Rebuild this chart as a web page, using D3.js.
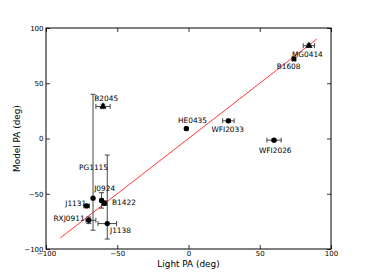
<!DOCTYPE html>
<html>
<head>
<meta charset="utf-8">
<script src="https://cdn.jsdelivr.net/npm/d3@7"></script>
<style>
  body { margin: 0; background: #fff; }
  text { font-family: "DejaVu Sans", sans-serif; }
</style>
</head>
<body>
<div id="chart"></div>
<script>
'use strict';

// lens names and measured position angles (deg)
const lenses  = ["B2045", "PG1115", "J0924", "J1131", "B1422", "RXJ0911", "J1138",
                 "HE0435", "WFI2033", "WFI2026", "MG0414", "B1608"];
const lightPA = [-60, -67, -61, -71.5, -59, -70, -57, -1.5, 28, 60, 84.5, 74];
const modelPA = [29, -54, -56, -61, -58.5, -74, -77, 9, 16, -1.5, 84, 72];
// errors: [minus, plus]
const xErr = [[5, 5], [0, 0], [1, 1], [2, 2], [1, 1], [2, 5], [6.5, 6.5],
              [1, 1], [4, 4], [5, 5], [4, 4], [1, 1]];
const yErr = [[2, 2], [29, 94], [7, 7], [1, 1], [2, 2], [3, 3], [14, 62],
              [1, 1], [1.5, 1.5], [1, 1], [1.5, 1.5], [1, 1]];
const markers = ["triangle", "circle", "circle", "circle", "circle", "circle", "circle",
                 "circle", "circle", "circle", "triangle", "square"];
const xTicks = [-100, -50, 0, 50, 100];
const yTicks = [-100, -50, 0, 50, 100];
const oneToOne = [-90, 90];

// label placement, px from the marker (text left edge, vertical centre)
const labelOffsets = [[-8.7, -8], [-14, -31], [-7.4, -11.7], [-21.4, -2], [7.6, -1],
                      [-35.3, -2.3], [2.7, 6.7], [-8.4, -8.3], [-17, 9], [-15, 10],
                      [-17, 9], [-17.3, 7.7]];

const W = 368, H = 278;
const margin = { left: 46, right: 37, top: 28, bottom: 29 };

const svg = d3.select("#chart").append("svg")
  .attr("width", W).attr("height", H);

const x = d3.scaleLinear().domain([-100, 100]).range([margin.left, W - margin.right]);
const y = d3.scaleLinear().domain([-100, 100]).range([H - margin.bottom, margin.top]);

const tickLen = 4;

// axes (ticks point inward, on all four sides)
svg.append("g")
  .attr("transform", `translate(0,${y(-100)})`)
  .call(d3.axisBottom(x).tickValues(xTicks).tickSizeInner(-tickLen).tickSizeOuter(0).tickPadding(2.5))
  .call(g => g.select(".domain").remove());
svg.append("g")
  .attr("transform", `translate(0,${y(100)})`)
  .call(d3.axisTop(x).tickValues(xTicks).tickSizeInner(-tickLen).tickSizeOuter(0).tickFormat(""))
  .call(g => g.select(".domain").remove());
svg.append("g")
  .attr("transform", `translate(${x(-100)},0)`)
  .call(d3.axisLeft(y).tickValues(yTicks).tickSizeInner(-tickLen).tickSizeOuter(0).tickPadding(2.5))
  .call(g => g.select(".domain").remove());
svg.append("g")
  .attr("transform", `translate(${x(100)},0)`)
  .call(d3.axisRight(y).tickValues(yTicks).tickSizeInner(-tickLen).tickSizeOuter(0).tickFormat(""))
  .call(g => g.select(".domain").remove());

svg.selectAll(".tick text").attr("font-size", 7).attr("fill", "#000")
  .attr("font-family", "DejaVu Sans, sans-serif");
svg.selectAll(".tick line").attr("stroke", "#000").attr("stroke-width", 0.8);

// 1:1 line
svg.append("line")
  .attr("x1", x(oneToOne[0])).attr("y1", y(oneToOne[0]))
  .attr("x2", x(oneToOne[1])).attr("y2", y(oneToOne[1]))
  .attr("stroke", "#ff2020").attr("stroke-width", 0.9);

// error bars
const cap = 2.5;
const errG = svg.append("g").attr("stroke", "#333").attr("stroke-width", 0.9);
lenses.forEach((name, i) => {
  const cx = x(lightPA[i]), cy = y(modelPA[i]);
  const [xm, xp] = xErr[i], [ym, yp] = yErr[i];
  if (xm + xp > 0) {
    const x0 = x(lightPA[i] - xm), x1 = x(lightPA[i] + xp);
    errG.append("line").attr("x1", x0).attr("x2", x1).attr("y1", cy).attr("y2", cy);
    errG.append("line").attr("x1", x0).attr("x2", x0).attr("y1", cy - cap).attr("y2", cy + cap);
    errG.append("line").attr("x1", x1).attr("x2", x1).attr("y1", cy - cap).attr("y2", cy + cap);
  }
  if (ym + yp > 0) {
    const y0 = y(modelPA[i] - ym), y1 = y(modelPA[i] + yp);
    errG.append("line").attr("x1", cx).attr("x2", cx).attr("y1", y0).attr("y2", y1);
    errG.append("line").attr("x1", cx - cap).attr("x2", cx + cap).attr("y1", y0).attr("y2", y0);
    errG.append("line").attr("x1", cx - cap).attr("x2", cx + cap).attr("y1", y1).attr("y2", y1);
  }
});

// markers
const symbolFor = { circle: d3.symbolCircle, triangle: d3.symbolTriangle, square: d3.symbolSquare };
svg.append("g").selectAll("path")
  .data(lenses)
  .join("path")
    .attr("transform", (d, i) => `translate(${x(lightPA[i])},${y(modelPA[i])})`)
    .attr("d", (d, i) => d3.symbol(symbolFor[markers[i]], markers[i] === "circle" ? 22 : 22)())
    .attr("fill", "#000");

// lens labels
svg.append("g").selectAll("text")
  .data(lenses)
  .join("text")
    .attr("x", (d, i) => x(lightPA[i]) + labelOffsets[i][0])
    .attr("y", (d, i) => y(modelPA[i]) + labelOffsets[i][1])
    .attr("dy", "0.35em")
    .attr("font-size", 7.4)
    .text(d => d);

// frame
svg.append("rect")
  .attr("x", x(-100)).attr("y", y(100))
  .attr("width", x(100) - x(-100)).attr("height", y(-100) - y(100))
  .attr("fill", "none").attr("stroke", "#000").attr("stroke-width", 1);

// axis labels
svg.append("text")
  .attr("x", x(0)).attr("y", 267)
  .attr("text-anchor", "middle").attr("font-size", 8.9)
  .text("Light PA (deg)");
svg.append("text")
  .attr("transform", `translate(20,${y(0)}) rotate(-90)`)
  .attr("text-anchor", "middle").attr("font-size", 8.9)
  .text("Model PA (deg)");
</script>
</body>
</html>
